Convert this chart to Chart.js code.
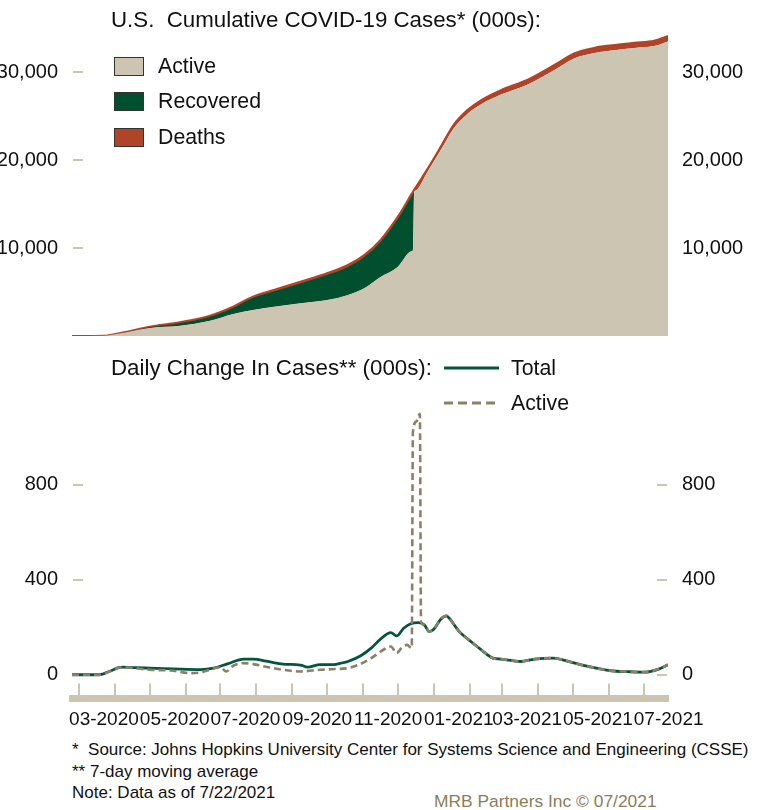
<!DOCTYPE html>
<html>
<head>
<meta charset="utf-8">
<script src="https://cdn.jsdelivr.net/npm/chart.js@4.4.1/dist/chart.umd.min.js"></script>
<style>
  body { margin: 0; background: #fff; width: 765px; height: 810px; position: relative; overflow: hidden;
         font-family: "Liberation Sans", Arial, sans-serif; color: #111; }
  canvas { position: absolute; left: 0; }
  .t { position: absolute; white-space: pre; line-height: 24px; font-size: 21.3px; }
  .title { font-size: 22.3px; }
  .box { position: absolute; left: 114px; width: 30px; height: 19px; box-sizing: border-box; border: 1px solid #333; }
  .note { position: absolute; left: 72px; white-space: pre; font-size: 17px; line-height: 18px; }
</style>
</head>
<body>
<canvas id="top" width="765" height="345" style="top:0"></canvas>
<canvas id="bottom" width="765" height="390" style="top:350px"></canvas>

<div class="t title" style="left:111px; top:8px">U.S.  Cumulative COVID-19 Cases* (000s):</div>
<div class="box" style="top:57px; background:#CCC5B2"></div>
<div class="box" style="top:92px; background:#00502F"></div>
<div class="box" style="top:128px; background:#B04428"></div>
<div class="t" style="left:158px; top:54px">Active</div>
<div class="t" style="left:158px; top:89px">Recovered</div>
<div class="t" style="left:158px; top:125px">Deaths</div>

<div class="t title" style="left:111px; top:356px">Daily Change In Cases** (000s):</div>
<svg style="position:absolute; left:442px; top:360px" width="60" height="50">
  <line x1="2" y1="8" x2="57" y2="8" stroke="#00573A" stroke-width="3"/>
  <line x1="2" y1="43" x2="57" y2="43" stroke="#8C8168" stroke-width="3" stroke-dasharray="9,5"/>
</svg>
<div class="t" style="left:511px; top:356px">Total</div>
<div class="t" style="left:511px; top:391px">Active</div>

<div class="note" style="top:741px">*  Source: Johns Hopkins University Center for Systems Science and Engineering (CSSE)</div>
<div class="note" style="top:763px">** 7-day moving average</div>
<div class="note" style="top:784px">Note: Data as of 7/22/2021</div>
<div class="note" style="left:434px; top:792px; color:#8B7D5A; font-size:17.4px">MRB Partners Inc © 07/2021</div>

<script>
// days counted from 2020-03-01
const tickDays = [0, 31, 61, 92, 122, 153, 184, 214, 245, 275, 306, 337, 365, 396, 426, 457, 487];
const tickLabels = ["03-2020", "", "05-2020", "", "07-2020", "", "09-2020", "", "11-2020", "",
                    "01-2021", "", "03-2021", "", "05-2021", "", "07-2021"];

// cumulative cases, 000s
const cumDays = [-6, 22, 27, 40, 61, 87, 113, 133, 150, 168, 191, 214, 232, 246, 260, 275, 287, 288, 289, 290,
                 301, 312, 323, 335, 347, 364, 388, 410, 427, 445, 462, 479, 496, 508];
const activeCum = [0, 30, 115, 400, 909, 1170, 1739, 2500, 2955, 3330, 3716, 4090, 4660, 5420, 6700, 7875, 9650, 9770, 16298, 16496,
                   18750, 21130, 23565, 25240, 26345, 27435, 28650, 30235, 31543, 32170, 32472, 32727, 32953, 33480];
// recovered stops being reported mid-December 2020
const recoveredCum = [0, 0, 3, 35, 88, 290, 451, 695, 1363, 1730, 2264, 2833, 3190, 3548, 3952, 5415, 6232, 6330, 0];
const deathsCum = [0, 0, 2, 15, 63, 100, 120, 135, 152, 170, 190, 207, 220, 232, 248, 270, 298, 300, 302, 304,
                   340, 380, 415, 440, 475, 515, 550, 565, 577, 590, 598, 603, 607, 610];
const cumTicks = [10000, 20000, 30000];

// daily change, 7-day average, 000s
const totalDays = [-6, 18, 27, 37, 48, 61, 81, 105, 116, 128, 142, 150, 163, 176, 191, 197, 208, 220, 226, 232,
                   243, 252, 260, 269, 274, 280, 286, 293, 298, 302, 306, 312, 317, 319, 328, 338, 347, 357, 364, 381,
                   393, 409, 422, 439, 459, 474, 488, 500, 508];
const totalDaily = [0, 0, 16, 32, 30, 28, 25, 22, 28, 46, 66, 66, 56, 45, 41, 32, 43, 43, 49, 56,
                    80, 112, 150, 178, 164, 196, 215, 220, 210, 182, 192, 234, 248, 240, 182, 140, 105, 70, 66, 56,
                    66, 70, 56, 35, 17, 13, 11, 24, 42];
const activeDays = [-6, 18, 27, 37, 61, 81, 96, 105, 122, 127, 133, 142, 150, 163, 176, 191, 208, 220, 232, 243,
                    252, 265, 269, 274, 278, 283, 287, 288, 291, 294, 295, 298, 302, 306, 312, 317, 319, 328, 338, 347,
                    357, 364, 381, 393, 409, 422, 439, 459, 474, 488, 500, 508];
const activeDaily = [0, 0, 15, 32, 21, 17, 7, 10, 32, 14, 38, 49, 45, 32, 21, 14, 21, 24, 28, 46,
                     70, 112, 119, 91, 112, 126, 112, 1020, 1067, 1100, 222, 210, 182, 192, 234, 248, 240, 182, 140, 105,
                     70, 66, 56, 66, 70, 56, 35, 17, 13, 11, 24, 42];
const dailyTicks = [0, 400, 800];

const tan = "#CCC5B2";
const fontFam = "'Liberation Sans', Arial, sans-serif";

function pts(xs, ys) {
    return ys.map((y, i) => ({ x: xs[i], y: y }));
}

// small tan dashes inside the plot edges, and month marks above the x bar
const insideTicks = {
    id: "insideTicks",
    beforeDatasetsDraw(chart, args, opts) {
        const { ctx, chartArea: a, scales } = chart;
        ctx.save();
        ctx.strokeStyle = tan;
        ctx.lineWidth = 2;
        ctx.beginPath();
        scales.y.ticks.forEach(t => {
            const py = Math.round(scales.y.getPixelForValue(t.value));
            ctx.moveTo(a.left + 1, py); ctx.lineTo(a.left + 11, py);
            ctx.moveTo(a.right - 11, py); ctx.lineTo(a.right - 1, py);
        });
        if (opts.xMarks) {
            scales.x.ticks.forEach(t => {
                const px = Math.round(scales.x.getPixelForValue(t.value));
                ctx.moveTo(px, a.bottom - 15); ctx.lineTo(px, a.bottom - 3);
            });
        }
        ctx.stroke();
        ctx.restore();
    }
};

function yAxis(pos, w, min, max, tickVals) {
    return {
        type: "linear", position: pos, min: min, max: max,
        afterBuildTicks: s => { s.ticks = tickVals.map(v => ({ value: v })); },
        afterFit: s => { s.width = w; s.paddingTop = 0; s.paddingBottom = 0; },
        grid: { display: false, drawTicks: false },
        border: { display: false },
        ticks: { padding: 14, color: "#111", font: { size: 20, family: fontFam },
                 callback: v => v.toLocaleString("en-US") }
    };
}

const cumY = Object.assign(yAxis("left", 72, 0, 37500, cumTicks), { stacked: true });

new Chart(document.getElementById("top"), {
    type: "line",
    data: {
        datasets: [
            { label: "Active", data: pts(cumDays, activeCum), backgroundColor: tan, fill: "origin",
              borderWidth: 0, pointRadius: 0, cubicInterpolationMode: "monotone" },
            { label: "Recovered", data: pts(cumDays, recoveredCum), backgroundColor: "#00502F", fill: "-1",
              borderWidth: 0, pointRadius: 0, cubicInterpolationMode: "monotone" },
            { label: "Deaths", data: pts(cumDays, deathsCum), backgroundColor: "#B04428", fill: "-2",
              borderColor: "#B04428", borderWidth: 2, pointRadius: 0, cubicInterpolationMode: "monotone" }
        ]
    },
    options: {
        responsive: false, animation: false, devicePixelRatio: 1,
        layout: { padding: { top: 6, bottom: 9, left: 0, right: 0 } },
        plugins: { legend: { display: false }, tooltip: { enabled: false }, insideTicks: {} },
        scales: {
            x: { type: "linear", min: -6, max: 508, display: false },
            y: cumY,
            y2: yAxis("right", 97, 0, 37500, cumTicks)
        }
    },
    plugins: [insideTicks]
});

new Chart(document.getElementById("bottom"), {
    type: "line",
    data: {
        datasets: [
            { label: "Active", data: pts(activeDays, activeDaily), borderColor: "#8C8168", borderWidth: 2.6,
              borderDash: [7, 4], fill: false, pointRadius: 0, cubicInterpolationMode: "monotone" },
            { label: "Total", data: pts(totalDays, totalDaily), borderColor: "#00573A", borderWidth: 2.8,
              fill: false, pointRadius: 0, cubicInterpolationMode: "monotone" }
        ]
    },
    options: {
        responsive: false, animation: false, devicePixelRatio: 1,
        layout: { padding: { top: 40, bottom: 0, left: 0, right: 0 } },
        plugins: { legend: { display: false }, tooltip: { enabled: false }, insideTicks: { xMarks: true } },
        scales: {
            x: {
                type: "linear", min: -6, max: 508,
                afterBuildTicks: s => { s.ticks = tickDays.map(v => ({ value: v })); },
                afterFit: s => { s.height = 41.5; },
                grid: { display: false, drawTicks: false },
                border: { display: true, color: tan, width: 7 },
                ticks: { autoSkip: false, maxRotation: 0, padding: 10, labelOffset: 25, color: "#111",
                         font: { size: 19, family: fontFam },
                         callback: (v, i) => tickLabels[i] }
            },
            y: yAxis("left", 72, -100, 1200, dailyTicks),
            y2: yAxis("right", 97, -100, 1200, dailyTicks)
        }
    },
    plugins: [insideTicks]
});
</script>
</body>
</html>
